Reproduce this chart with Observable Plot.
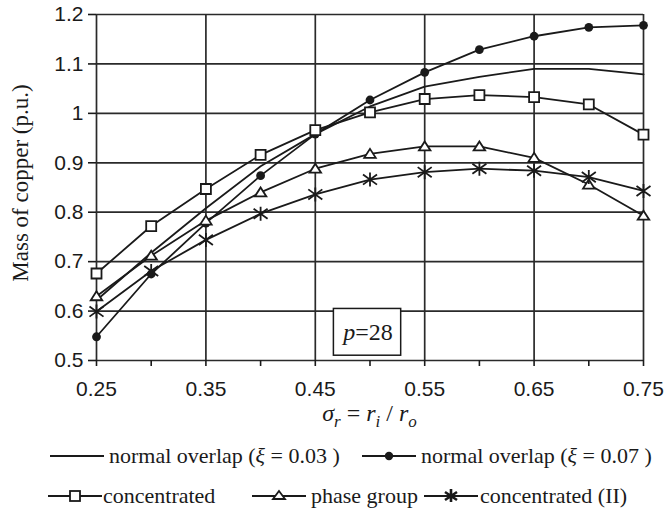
<!DOCTYPE html>
<html>
<head>
<meta charset="utf-8">
<script src="https://cdn.jsdelivr.net/npm/d3@7"></script>
<script src="https://cdn.jsdelivr.net/npm/@observablehq/plot@0.6"></script>
<style>
  html, body { margin: 0; padding: 0; background: #fff; }
  #wrap { position: relative; width: 666px; height: 516px; background: #fff; overflow: hidden; }
  .leg { position: absolute; display: flex; align-items: center; font-family: "Liberation Serif", serif; font-size: 22px; color: #1a1a1a; white-space: pre; }
  .leg svg { display: block; }
</style>
</head>
<body>
<div id="wrap"><div id="chart"></div></div>
<script>
// ---- data ----
const sigma = [0.25, 0.30, 0.35, 0.40, 0.45, 0.50, 0.55, 0.60, 0.65, 0.70, 0.75];
const overlap003 = [0.622, 0.718, 0.808, 0.893, 0.958, 1.014, 1.054, 1.074, 1.090, 1.090, 1.079];
const overlap007 = [0.548, 0.675, 0.778, 0.874, 0.958, 1.027, 1.083, 1.129, 1.156, 1.174, 1.178];
const concentrated = [0.676, 0.772, 0.847, 0.916, 0.966, 1.002, 1.029, 1.037, 1.033, 1.018, 0.957];
const phaseGroup = [0.630, 0.712, 0.783, 0.840, 0.888, 0.918, 0.933, 0.933, 0.910, 0.856, 0.793];
const concentrated2 = [0.599, 0.681, 0.744, 0.797, 0.836, 0.866, 0.881, 0.888, 0.884, 0.871, 0.843];

const xMajorTicks = [0.25, 0.35, 0.45, 0.55, 0.65, 0.75];
const xMinorTicks = [0.30, 0.40, 0.50, 0.60, 0.70];
const yTicks = [0.5, 0.6, 0.7, 0.8, 0.9, 1.0, 1.1, 1.2];
const yTickLabels = ["0.5", "0.6", "0.7", "0.8", "0.9", "1", "1.1", "1.2"];
const xTickLabels = ["0.25", "0.35", "0.45", "0.55", "0.65", "0.75"];

const seriesKeys = ["overlap003", "overlap007", "concentrated", "phaseGroup", "concentrated2"];
const seriesValues = [overlap003, overlap007, concentrated, phaseGroup, concentrated2];
const legendLabels = [
  ["normal overlap (", "ξ", " = 0.03 )"],
  ["normal overlap (", "ξ", " = 0.07 )"],
  ["concentrated"],
  ["phase group"],
  ["concentrated (II)"]
];
const yLabel = "Mass of copper (p.u.)";
const note = [{x1: 0.467, x2: 0.5285, y1: 0.5097, y2: 0.6043, x: 0.4865, y: 0.5565, a: "p", b: "=28"}];

// ---- build rows ----
const rows = [];
seriesKeys.forEach((k, i) => sigma.forEach((s, j) => rows.push({series: k, x: s, y: seriesValues[i][j]})));
const of = k => rows.filter(r => r.series === k);

const INK = "#1a1a1a";
// custom symbols (r = half size)
const symSquare = {draw(c, size) { const h = Math.sqrt(size / Math.PI); c.rect(-h, -h, 2 * h, 2 * h); }};
const symTri = {draw(c, size) { const h = Math.sqrt(size / Math.PI); c.moveTo(0, -h); c.lineTo(h * 1.15, h * 0.8); c.lineTo(-h * 1.15, h * 0.8); c.closePath(); }};
const symStar = {draw(c, size) { const h = Math.sqrt(size / Math.PI); c.moveTo(0, -h); c.lineTo(0, h); c.moveTo(-h, -h * 0.72); c.lineTo(h, h * 0.72); c.moveTo(-h, h * 0.72); c.lineTo(h, -h * 0.72); }};

const gridStyle = {stroke: "#2a2a2a", strokeOpacity: 1, strokeWidth: 1.7};

const chart = Plot.plot({
  width: 666,
  height: 440,
  marginLeft: 96,
  marginRight: 23,
  marginTop: 14,
  marginBottom: 80,
  x: {domain: [0.25, 0.75]},
  y: {domain: [0.5, 1.2]},
  style: {fontFamily: "Liberation Sans, Arial, sans-serif", fontSize: "21px", color: INK, background: "white", overflow: "visible"},
  marks: [
    Plot.gridY(yTicks, gridStyle),
    Plot.gridX(xMajorTicks, gridStyle),
    Plot.axisY(yTicks, {tickSize: 8, tickPadding: 5, strokeWidth: 1.6, tickFormat: (d, i) => yTickLabels[i], label: null, fontSize: 21}),
    Plot.axisX(xMajorTicks, {tickSize: 6, tickPadding: 15, strokeWidth: 1.6, tickFormat: (d, i) => xTickLabels[i], label: null, fontSize: 21}),
    Plot.axisX(xMinorTicks, {tickSize: 6, strokeWidth: 1.6, tickFormat: () => "", label: null}),
    ...seriesKeys.map(k => Plot.line(of(k), {x: "x", y: "y", stroke: INK, strokeWidth: 1.8})),
    Plot.dot(of("overlap007"), {x: "x", y: "y", r: 4.4, fill: INK, stroke: "none", symbol: "circle"}),
    Plot.dot(of("concentrated"), {x: "x", y: "y", r: 5, fill: "white", stroke: INK, strokeWidth: 1.8, symbol: symSquare}),
    Plot.dot(of("phaseGroup"), {x: "x", y: "y", r: 5, fill: "white", stroke: INK, strokeWidth: 1.8, symbol: symTri}),
    Plot.dot(of("concentrated2"), {x: "x", y: "y", r: 7, fill: "none", stroke: INK, strokeWidth: 1.8, symbol: symStar}),
    Plot.rect(note, {x1: "x1", x2: "x2", y1: "y1", y2: "y2", fill: "white", stroke: INK, strokeWidth: 1.5}),
    Plot.text(note, {x: "x", y: "y", text: "a", textAnchor: "end", fontFamily: "Liberation Serif, serif", fontStyle: "italic", fontSize: 24, fill: INK}),
    Plot.text(note, {x: "x", y: "y", text: "b", textAnchor: "start", fontFamily: "Liberation Serif, serif", fontSize: 24, fill: INK})
  ]
});
document.getElementById("chart").appendChild(chart);

// axis titles
const svg = d3.select(chart);
const xs = chart.scale("x"), ys = chart.scale("y");
const xc = (xs.apply(0.25) + xs.apply(0.75)) / 2;
const yc = (ys.apply(0.5) + ys.apply(1.2)) / 2;
svg.append("text")
  .attr("transform", `translate(20,${yc - 4}) rotate(-90)`)
  .attr("text-anchor", "middle").attr("dominant-baseline", "central")
  .attr("font-family", "Liberation Serif, serif").attr("font-size", 23).attr("fill", INK)
  .text(yLabel);
const xl = svg.append("text")
  .attr("x", xc).attr("y", 421).attr("text-anchor", "middle")
  .attr("font-family", "Liberation Serif, serif").attr("font-size", 24).attr("fill", INK);
const parts = [["σ", "italic", 0], ["r", "italic", 1], [" = ", "normal", 0], ["r", "italic", 0], ["i", "italic", 1], [" / ", "normal", 0], ["r", "italic", 0], ["o", "italic", 1]];
let prevSub = 0;
parts.forEach(([t, st, sub]) => {
  const ts = xl.append("tspan").attr("font-style", st).text(t);
  if (sub) ts.attr("font-size", 17);
  if (sub && !prevSub) ts.attr("dy", 6);
  else if (!sub && prevSub) ts.attr("dy", -6);
  prevSub = sub;
});

// legend
const legendPos = [[50, 456], [362, 456], [48, 496], [252, 496], [424, 496]];
const legendGap = [5, 5, 1, 5, 2];
const wrap = document.getElementById("wrap");
seriesKeys.forEach((k, i) => {
  const d = document.createElement("div");
  d.className = "leg";
  d.style.left = legendPos[i][0] + "px";
  d.style.top = (legendPos[i][1] - 14) + "px";
  d.style.height = "28px";
  const w = 54;
  let sym = "";
  if (k === "overlap007") sym = `<circle cx="${w/2}" cy="14" r="4.2" fill="${INK}"/>`;
  if (k === "concentrated") sym = `<rect x="${w/2-5}" y="9" width="10" height="10" fill="white" stroke="${INK}" stroke-width="1.8"/>`;
  if (k === "phaseGroup") sym = `<path d="M${w/2},9 L${w/2+6},17 L${w/2-6},17 Z" fill="white" stroke="${INK}" stroke-width="1.8"/>`;
  if (k === "concentrated2") sym = `<path d="M${w/2},7 L${w/2},20 M${w/2-6},10 L${w/2+6},18 M${w/2-6},18 L${w/2+6},10" stroke="${INK}" stroke-width="2.6" fill="none"/>`;
  const svgIcon = `<svg width="${w}" height="28" style="margin-right:${legendGap[i]}px"><line x1="0" x2="${w}" y1="14" y2="14" stroke="${INK}" stroke-width="1.8"/>${sym}</svg>`;
  const lab = legendLabels[i];
  const txt = lab.length === 3 ? `${lab[0]}<i>${lab[1]}</i>${lab[2]}` : lab[0];
  d.innerHTML = svgIcon + `<span>${txt}</span>`;
  wrap.appendChild(d);
});
</script>
</body>
</html>
